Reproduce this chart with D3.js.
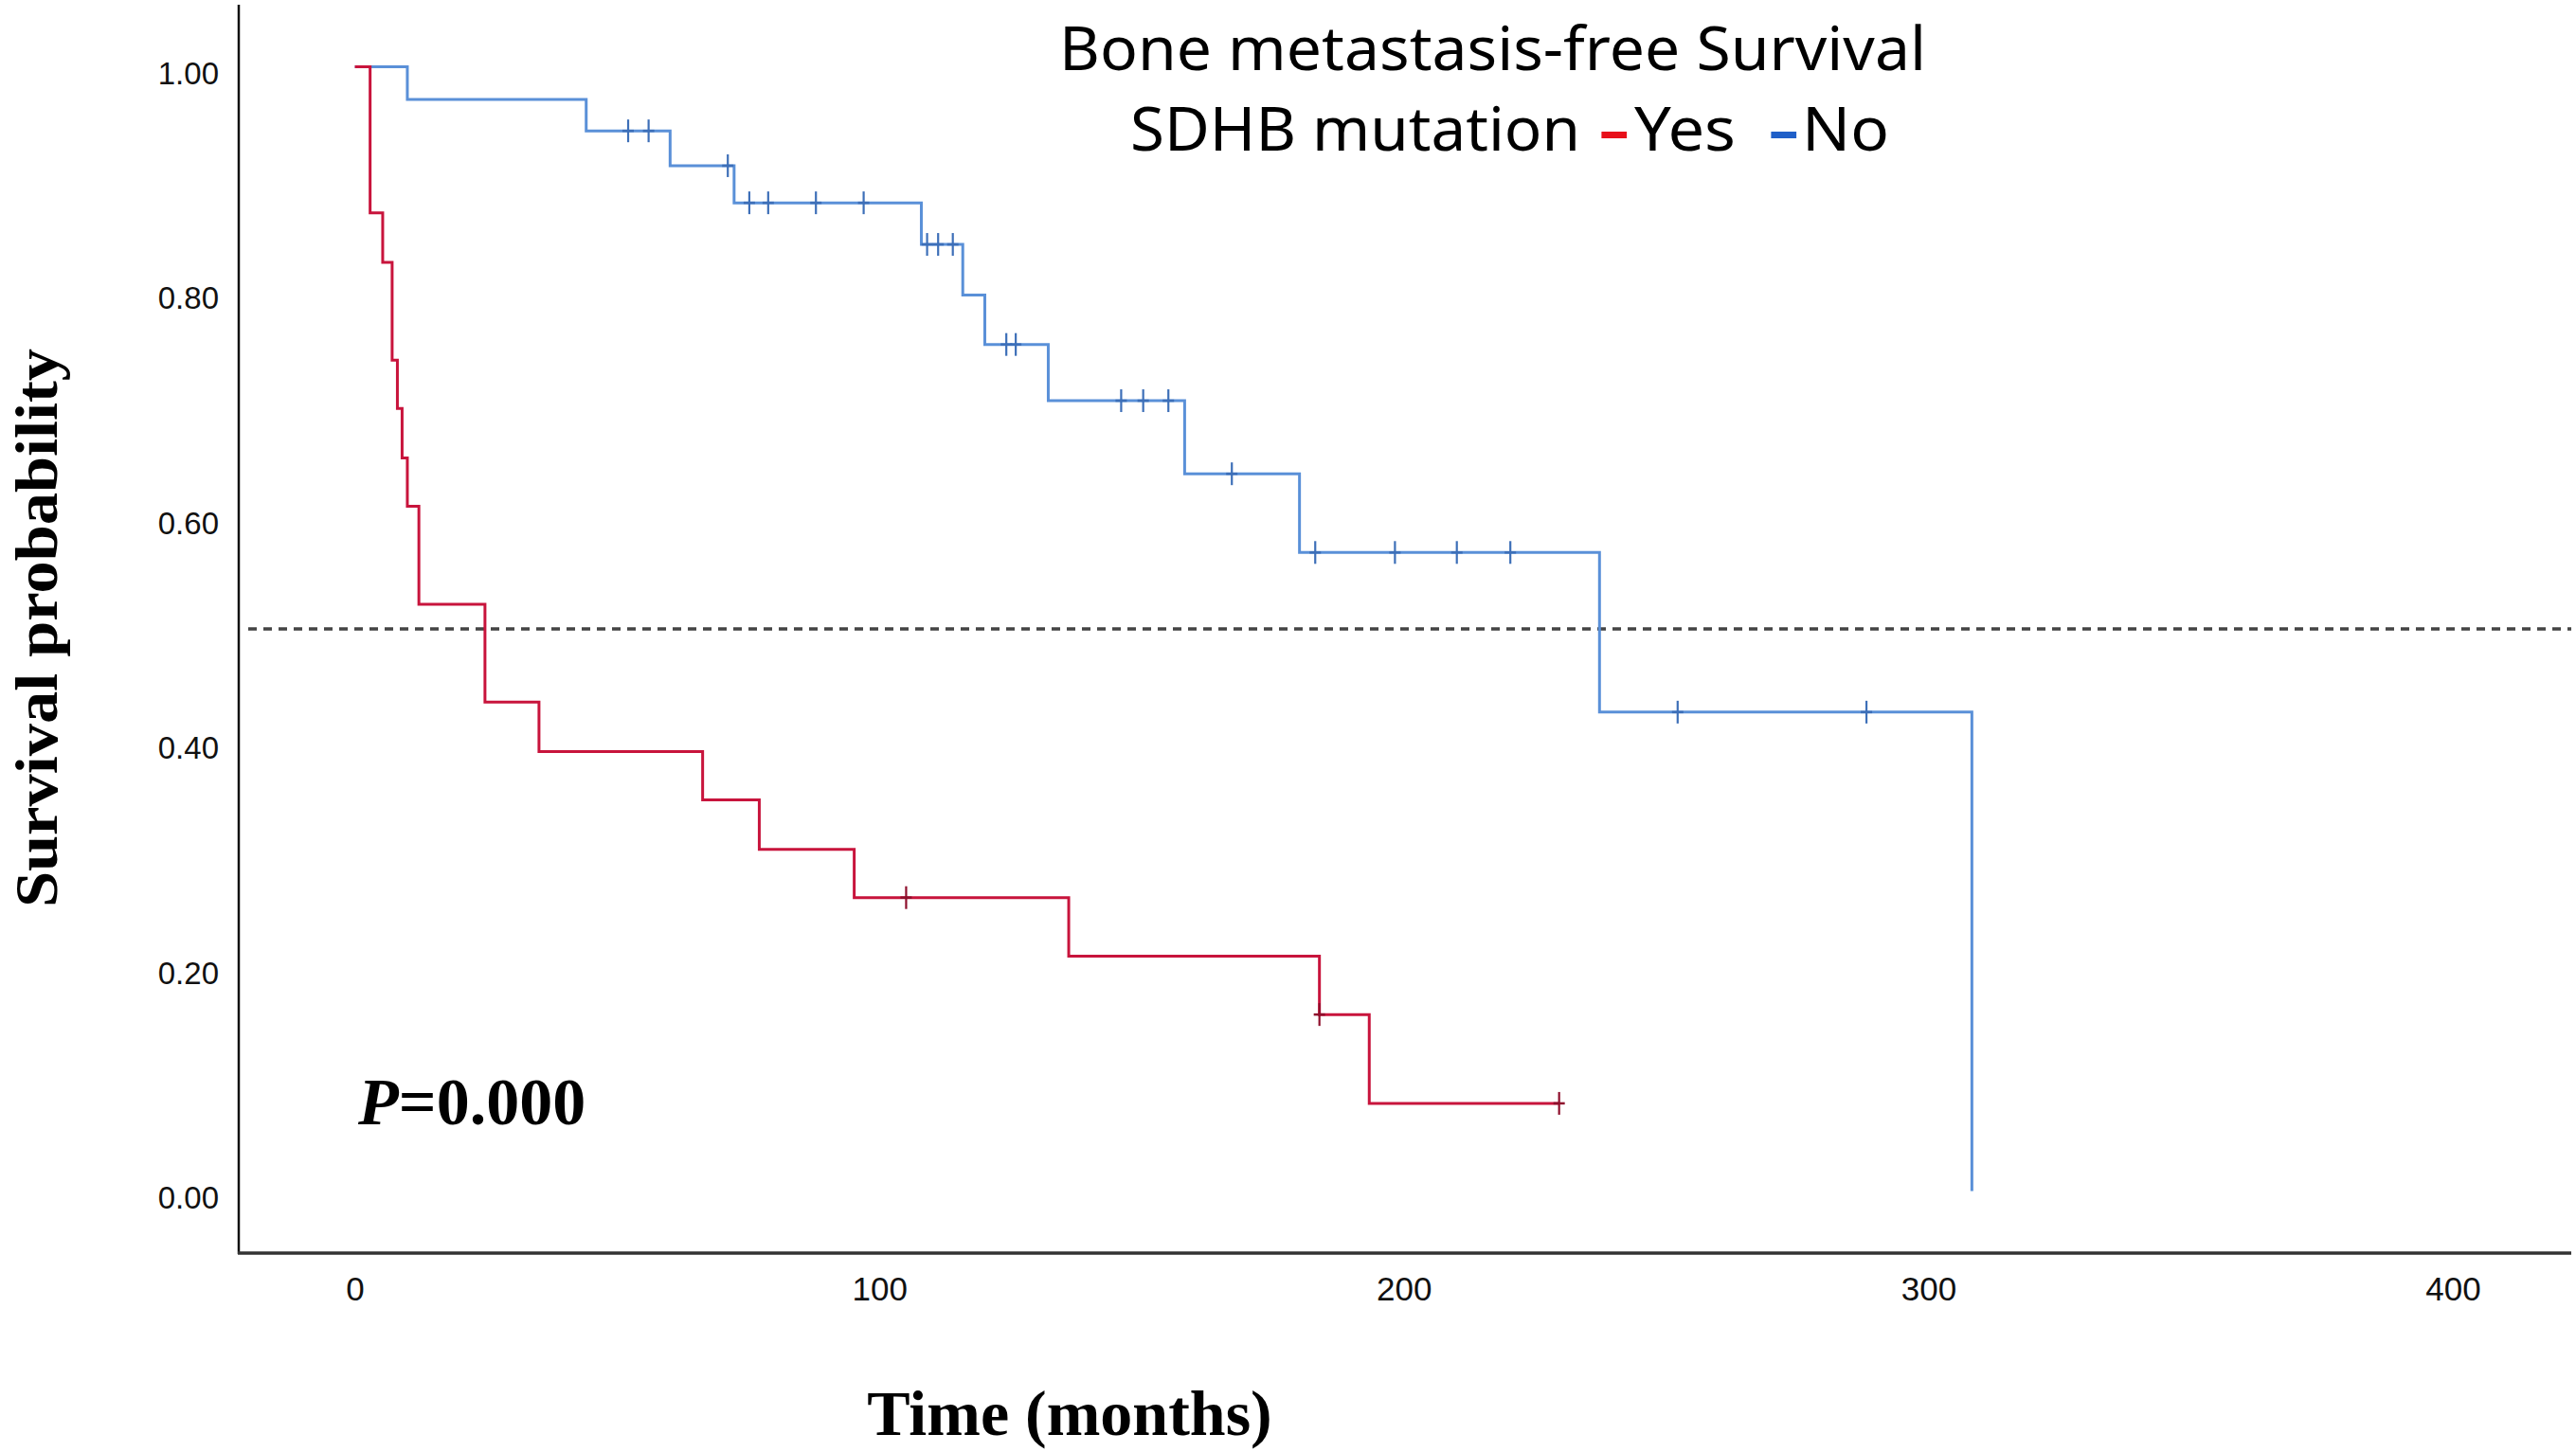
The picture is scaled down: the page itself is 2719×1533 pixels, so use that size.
<html>
    <head>
        <script src="https://d3js.org/d3.v7.min.js" charset="utf-8"></script>
        <style>
            body { margin: 0; background: #ffffff; }
        </style>
    </head>

    <body>
    </body>

    <script>
        // Kaplan-Meier steps: time (months) where the curve drops, and the level after it
        var yesTimes = [0, 2.9, 5.3, 7.1, 8.1, 9.0, 10.0, 12.2, 24.8, 35.1, 66.3, 77.1, 95.2, 136.1, 183.9, 193.4];
        var yesSurvival = [1.0, 0.870, 0.826, 0.739, 0.696, 0.652, 0.609, 0.522, 0.435, 0.391, 0.348, 0.304, 0.261, 0.209, 0.157, 0.078];
        var yesCensored = [105.1, 183.9, 229.6];
        var yesEnd = 229.6;

        var noTimes = [0, 10.0, 44.1, 60.1, 72.3, 108.0, 115.9, 120.1, 132.2, 158.2, 180.1, 237.3, 308.3];
        var noSurvival = [1.0, 0.971, 0.943, 0.912, 0.879, 0.842, 0.797, 0.753, 0.703, 0.638, 0.568, 0.426, 0.0];
        var noCensored = [52.1, 56.0, 71.1, 75.2, 78.8, 87.9, 97.0, 109.1, 111.2, 114.0, 124.2, 126.0,
                          146.1, 150.3, 155.1, 167.2, 183.1, 198.3, 210.1, 220.3, 252.2, 288.2];
        var noEnd = 308.3;

        var xTickValues = [0, 100, 200, 300, 400];
        var yTickValues = [0, 0.2, 0.4, 0.6, 0.8, 1.0];

        var width = 2719;
        var height = 1533;

        var svg = d3.select("body").append("svg")
            .attr("width", width)
            .attr("height", height);

        svg.append("rect")
            .attr("width", width)
            .attr("height", height)
            .attr("fill", "#ffffff");

        var x = d3.scaleLinear().domain([0, 400]).range([374.6, 2589]);
        var y = d3.scaleLinear().domain([0, 1]).range([1257.5, 70.5]);

        // y axis labels (no tick marks, line drawn by hand)
        var yAxis = svg.append("g")
            .attr("transform", "translate(252,0)")
            .call(d3.axisLeft(y).tickValues(yTickValues).tickFormat(d3.format(".2f")).tickSize(0).tickPadding(21));
        yAxis.select(".domain").remove();
        yAxis.selectAll("text")
            .attr("dy", "18px")
            .attr("font-family", "Liberation Sans, Arial, sans-serif")
            .attr("font-size", 33)
            .attr("fill", "#111");

        var xAxis = svg.append("g")
            .attr("transform", "translate(0,1323)")
            .call(d3.axisBottom(x).tickValues(xTickValues).tickFormat(d3.format("d")).tickSize(0));
        xAxis.select(".domain").remove();
        xAxis.selectAll("text")
            .attr("y", 50)
            .attr("dy", 0)
            .attr("font-family", "Liberation Sans, Arial, sans-serif")
            .attr("font-size", 35)
            .attr("fill", "#111");

        // axis lines
        svg.append("line")
            .attr("x1", 252).attr("x2", 252)
            .attr("y1", 5).attr("y2", 1324)
            .attr("stroke", "#111").attr("stroke-width", 2.5);
        svg.append("line")
            .attr("x1", 251).attr("x2", 2714)
            .attr("y1", 1323).attr("y2", 1323)
            .attr("stroke", "#333").attr("stroke-width", 3.5);

        // median reference line
        svg.append("line")
            .attr("x1", 262).attr("x2", 2714)
            .attr("y1", y(0.5)).attr("y2", y(0.5))
            .attr("stroke", "#444")
            .attr("stroke-width", 3.5)
            .attr("stroke-dasharray", "9,7");

        function stepPoints(times, surv, endTime) {
            var pts = times.map(function(t, i) { return [t, surv[i]]; });
            if (endTime > times[times.length - 1]) pts.push([endTime, surv[surv.length - 1]]);
            return pts;
        }

        function survivalAt(times, surv, t) {
            var i = d3.bisectRight(times, t) - 1;
            return surv[Math.max(0, i)];
        }

        var line = d3.line()
            .x(function(d) { return x(d[0]); })
            .y(function(d) { return y(d[1]); })
            .curve(d3.curveStepAfter);

        function drawCurve(times, surv, censored, endTime, color, markColor) {
            svg.append("path")
                .datum(stepPoints(times, surv, endTime))
                .attr("d", line)
                .attr("fill", "none")
                .attr("stroke", color)
                .attr("stroke-width", 3);

            var marks = svg.append("g");
            censored.forEach(function(t) {
                var s = survivalAt(times, surv, t);
                marks.append("line")
                    .attr("x1", x(t)).attr("x2", x(t))
                    .attr("y1", y(s) - 12).attr("y2", y(s) + 12)
                    .attr("stroke", markColor).attr("stroke-width", 2.2);
                marks.append("line")
                    .attr("x1", x(t) - 6).attr("x2", x(t) + 6)
                    .attr("y1", y(s)).attr("y2", y(s))
                    .attr("stroke", markColor).attr("stroke-width", 2.5);
            });
        }

        drawCurve(noTimes, noSurvival, noCensored, noEnd, "#5a90d8", "#3d6fb8");
        drawCurve(yesTimes, yesSurvival, yesCensored, yesEnd, "#c8143c", "#8e0f2c");

        // title and legend
        var titleFont = "Noto Sans, Open Sans, sans-serif";
        svg.append("text")
            .attr("x", 1118).attr("y", 74)
            .attr("font-family", titleFont)
            .attr("font-size", 63)
            .attr("textLength", 915)
            .attr("lengthAdjust", "spacingAndGlyphs")
            .attr("fill", "#000")
            .text("Bone metastasis-free Survival");

        svg.append("text")
            .attr("x", 1193).attr("y", 158.5)
            .attr("font-family", titleFont)
            .attr("font-size", 63)
            .attr("textLength", 475)
            .attr("lengthAdjust", "spacingAndGlyphs")
            .attr("fill", "#000")
            .text("SDHB mutation");

        var legendItems = [
            { dashX: 1688, textX: 1725, textW: 107, label: "Yes", color: "#e8101a" },
            { dashX: 1867, textX: 1902, textW: 92, label: "No", color: "#1f5fc8" }
        ];
        legendItems.forEach(function(item) {
            svg.append("text")
                .attr("x", item.dashX).attr("y", 158.5)
                .attr("font-family", titleFont)
                .attr("font-size", 63)
                .attr("font-weight", "bold")
                .attr("fill", item.color)
                .text("\u2013");
            svg.append("text")
                .attr("x", item.textX).attr("y", 158.5)
                .attr("font-family", titleFont)
                .attr("font-size", 63)
                .attr("textLength", item.textW)
                .attr("lengthAdjust", "spacingAndGlyphs")
                .attr("fill", "#000")
                .text(item.label);
        });

        // p value
        var pText = svg.append("text")
            .attr("x", 378).attr("y", 1187)
            .attr("font-family", "Liberation Serif, Times New Roman, serif")
            .attr("font-weight", "bold")
            .attr("font-size", 70)
            .attr("fill", "#000");
        pText.append("tspan").attr("font-style", "italic").text("P");
        pText.append("tspan").text("=0.000");

        // axis titles
        svg.append("text")
            .attr("x", 1129).attr("y", 1515)
            .attr("text-anchor", "middle")
            .attr("font-family", "Liberation Serif, Times New Roman, serif")
            .attr("font-weight", "bold")
            .attr("font-size", 68)
            .attr("fill", "#000")
            .text("Time (months)");

        svg.append("text")
            .attr("transform", "translate(60,663) rotate(-90)")
            .attr("text-anchor", "middle")
            .attr("font-family", "Liberation Serif, Times New Roman, serif")
            .attr("font-weight", "bold")
            .attr("font-size", 64)
            .attr("textLength", 590)
            .attr("lengthAdjust", "spacingAndGlyphs")
            .attr("fill", "#000")
            .text("Survival probability");
    </script>
</html>
